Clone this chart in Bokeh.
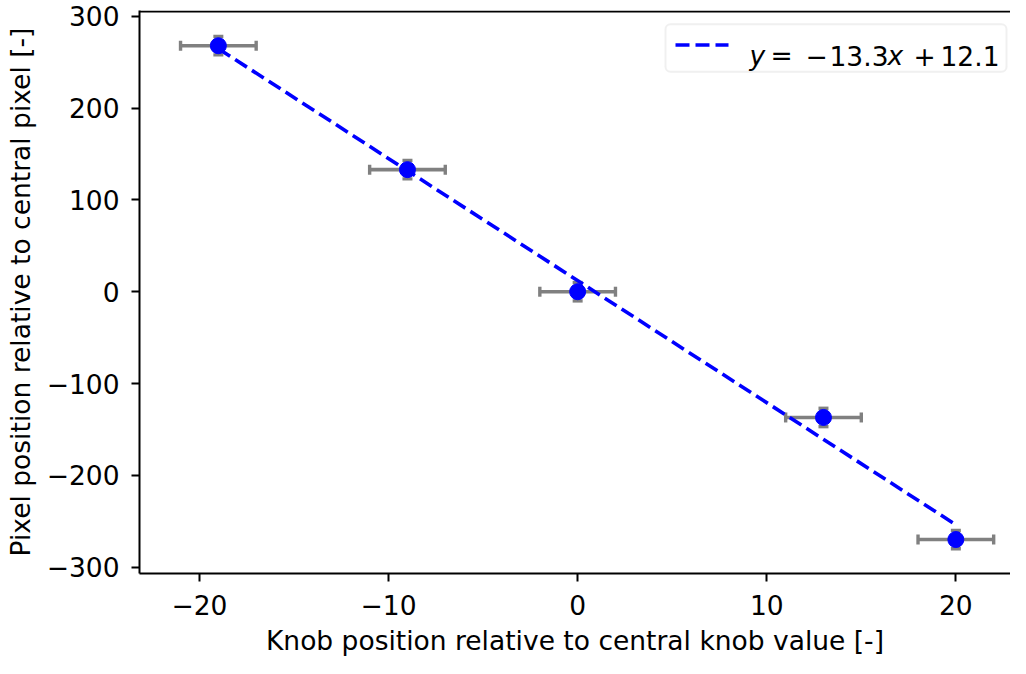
from bokeh.plotting import figure
from bokeh.models import (ColumnDataSource, Whisker, TeeHead, Range1d, FixedTicker,
                          BoxAnnotation, Label, Span)
from bokeh.embed import file_html
from bokeh.resources import INLINE

# ---- data ----
knob = [-19, -9, 0, 13, 20]
pixel = [268, 133, 0, -137, -270]
knob_err = [2, 2, 2, 2, 2]
pixel_err = [10, 10, 10, 10, 10]
slope = -13.3
intercept = 12.1
fit_label_parts = ["y", "=", "\u2212", "13.3", "x", "+", "12.1"]
x_ticks = [-20, -10, 0, 10, 20]
y_ticks = [-300, -200, -100, 0, 100, 200, 300]
x_label = "Knob position relative to central knob value [-]"
y_label = "Pixel position relative to central pixel [-]"

FONT = "DejaVu Sans"
FS = "26.5px"
W, H = 1010, 658
MB_L, MB_R, MB_T, MB_B = 139, 0, 10, 78
X0, X1 = -23.17, 22.89
Y0, Y1 = -307, 306.4

p = figure(width=W, height=H, output_backend="svg", toolbar_location=None,
           x_range=Range1d(X0, X1), y_range=Range1d(Y0, Y1),
           min_border_left=MB_L, min_border_right=MB_R,
           min_border_top=MB_T, min_border_bottom=MB_B)
p.grid.visible = False
p.outline_line_color = None
p.background_fill_color = "white"
p.border_fill_color = "white"

for ax, ticks in ((p.xaxis[0], x_ticks), (p.yaxis[0], y_ticks)):
    ax.ticker = FixedTicker(ticks=ticks)
    ax.major_label_overrides = {t: (str(t).replace("-", "\u2212")) for t in ticks}
    ax.minor_tick_line_color = None
    ax.major_tick_out = 8
    ax.major_tick_in = 0
    ax.major_tick_line_width = 2
    ax.axis_line_width = 2
    ax.major_label_text_font = FONT
    ax.major_label_text_font_size = FS
    ax.major_label_text_color = "black"
    ax.axis_label_text_font = FONT
    ax.axis_label_text_font_size = FS
    ax.axis_label_text_font_style = "normal"
    ax.axis_label_text_color = "black"
p.xaxis.axis_label = x_label
p.yaxis.axis_label = y_label
p.xaxis.major_label_standoff = 13
p.yaxis.major_label_standoff = 12
p.xaxis.axis_label_standoff = 7
p.yaxis.axis_label_standoff = 8

FL = MB_L
FR = W - MB_R
FT = MB_T
FB = H - MB_B

def dx(px):
    return X0 + (px - FL) / (FR - FL) * (X1 - X0)

def dy(py):
    return Y1 - (py - FT) / (FB - FT) * (Y1 - Y0)

# top spine (right spine lies outside the visible picture in the reference)
p.add_layout(Span(location=dy(FT + 1), dimension="width", line_color="black",
                  line_width=2))

src = ColumnDataSource(dict(
    x=knob, y=pixel,
    xl=[a - e for a, e in zip(knob, knob_err)], xu=[a + e for a, e in zip(knob, knob_err)],
    yl=[a - e for a, e in zip(pixel, pixel_err)], yu=[a + e for a, e in zip(pixel, pixel_err)],
))

GRAY = "#808080"
wx = Whisker(source=src, base="y", lower="xl", upper="xu", dimension="width",
             line_color=GRAY, line_width=3.6, level="underlay",
             upper_head=TeeHead(size=10, line_color=GRAY, line_width=3.4),
             lower_head=TeeHead(size=10, line_color=GRAY, line_width=3.4))
wy = Whisker(source=src, base="x", lower="yl", upper="yu", dimension="height",
             line_color=GRAY, line_width=3.6, level="underlay",
             upper_head=TeeHead(size=10, line_color=GRAY, line_width=3.4),
             lower_head=TeeHead(size=10, line_color=GRAY, line_width=3.4))
p.add_layout(wx)
p.add_layout(wy)

p.scatter("x", "y", source=src, size=16, color="#0000ff")

fx = [min(knob), max(knob)]
fy = [slope * v + intercept for v in fx]
p.line(fx, fy, line_color="#0000ff", line_width=3.6, line_dash="14 6")

# ---- manual legend (positions in picture pixels -> data) ----
box = BoxAnnotation(left=dx(665), right=dx(1006), top=dy(24), bottom=dy(72),
                    fill_color="white", fill_alpha=0.8, line_color="#cccccc",
                    line_width=2, border_radius=5, level="underlay")
p.add_layout(box)
p.line([dx(675), dx(728)], [dy(45), dy(45)], line_color="#0000ff",
       line_width=3.6, line_dash="14 6")

base_y = dy(56)
xs = [749, 770, 805, 829, 887, 913, 940]
styles = ["italic", "normal", "normal", "normal", "italic", "normal", "normal"]
for txt, px, st in zip(fit_label_parts, xs, styles):
    p.add_layout(Label(x=dx(px), y=base_y, text=txt, text_font=FONT,
                       text_font_size=FS, text_font_style=st,
                       text_color="black", text_baseline="alphabetic",
                       text_align="left"))

open("out.html", "w").write(file_html(p, INLINE))
